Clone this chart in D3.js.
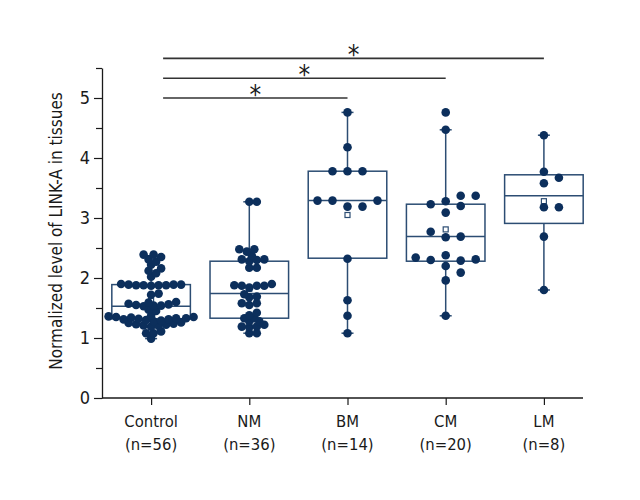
<!DOCTYPE html>
<html>
<head>
<meta charset="utf-8">
<script src="https://cdn.jsdelivr.net/npm/d3@7"></script>
<style>
  body { margin: 0; background: #fff; }
  text { font-family: "DejaVu Sans Condensed", "Liberation Sans", sans-serif; fill: #1a1a1a; }
</style>
</head>
<body>
<script>
// data
var categories = ["Control", "NM", "BM", "CM", "LM"];
var nLabels = ["(n=56)", "(n=36)", "(n=14)", "(n=20)", "(n=8)"];

var controlVals = [2.39, 2.39, 2.35, 2.31, 2.27, 2.22, 2.16, 2.12, 2.08, 2.02,
  1.90, 1.89, 1.89, 1.88, 1.88, 1.88, 1.87, 1.88, 1.89,
  1.74, 1.72,
  1.60, 1.59, 1.57, 1.56,
  1.55, 1.54, 1.54, 1.53,
  1.47, 1.45,
  1.37, 1.36, 1.35, 1.34, 1.33, 1.32, 1.31, 1.30, 1.29, 1.28, 1.31, 1.33, 1.35,
  1.26, 1.25, 1.24, 1.23, 1.22, 1.21, 1.20, 1.19,
  1.11, 1.08, 1.08, 0.99];
var nmVals = [3.27, 3.27, 2.48, 2.48, 2.44, 2.37, 2.31, 2.31, 2.30, 2.28, 2.17, 2.17,
  1.90, 1.87, 1.87, 1.87, 1.88, 1.84, 1.73, 1.69, 1.68, 1.58, 1.58, 1.55,
  1.42, 1.38, 1.33, 1.33, 1.28, 1.28, 1.22, 1.19, 1.19, 1.18, 1.08, 1.08];
var bmVals = [4.76, 4.18, 3.78, 3.78, 3.78, 3.29, 3.29, 3.29, 3.19, 3.19, 2.32, 1.63, 1.37, 1.08];
var cmVals = [4.76, 4.47, 3.37, 3.37, 3.28, 3.23, 3.20, 3.09, 2.77, 2.69, 2.68,
  2.38, 2.34, 2.31, 2.30, 2.29, 2.20, 2.09, 1.96, 1.37];
var lmVals = [4.38, 3.77, 3.67, 3.58, 3.18, 3.18, 2.69, 1.80];

var q1 = [1.32, 1.33, 2.33, 2.28, 2.91];
var medians = [1.53, 1.74, 3.29, 2.69, 3.37];
var q3 = [1.89, 2.28, 3.78, 3.23, 3.72];
var whiskerLow = [0.99, 1.08, 1.08, 1.37, 1.80];
var whiskerHigh = [2.37, 3.27, 4.76, 4.47, 4.38];
var means = [1.62, 1.82, 3.05, 2.81, 3.28];

var comparisons = [["Control", "BM"], ["Control", "CM"], ["Control", "LM"]];
var yTicks = [0, 1, 2, 3, 4, 5];
var yMinorTicks = [0.5, 1.5, 2.5, 3.5, 4.5, 5.5];

var groups = [controlVals, nmVals, bmVals, cmVals, lmVals];

var margin = {top: 68, right: 57, bottom: 102, left: 102};
var width = 640 - margin.left - margin.right,
    height = 500 - margin.top - margin.bottom;

var dotColor = "#0c2f5c",
    boxColor = "#2c4d73";

var svg = d3.select("body").append("svg")
    .attr("width", width + margin.left + margin.right)
    .attr("height", height + margin.top + margin.bottom)
  .append("g")
    .attr("transform", "translate(" + margin.left + "," + margin.top + ")");

var x = d3.scalePoint().domain(categories).range([0, 491]).padding(0.5);
var y = d3.scaleLinear().domain([0, 5.5]).range([height, 0]);

var boxW = x.step() * 0.8;
var capW = 12;

// y axis
svg.append("g")
    .call(d3.axisLeft(y).tickValues(yTicks).tickSize(8).tickSizeOuter(0).tickFormat(d3.format("d")))
    .call(function(g) {
      g.select(".domain").attr("stroke", "#1a1a1a").attr("stroke-width", 1.3);
      g.selectAll(".tick line").attr("stroke", "#1a1a1a").attr("stroke-width", 1.2);
      g.selectAll(".tick text").attr("font-size", 18).attr("x", -12)
        .style("font-family", "'DejaVu Sans Condensed', sans-serif").attr("fill", "#1a1a1a");
    });
svg.append("g")
    .call(d3.axisLeft(y).tickValues(yMinorTicks).tickSize(6).tickFormat(""))
    .call(function(g) {
      g.select(".domain").remove();
      g.selectAll(".tick line").attr("stroke", "#1a1a1a").attr("stroke-width", 1.2);
    });

svg.append("text")
    .attr("transform", "rotate(-90)")
    .attr("x", -(height / 2) + 2)
    .attr("y", -40)
    .attr("font-size", 17)
    .style("text-anchor", "middle")
    .text("Normalized level of LINK-A in tissues");

// x axis
var xg = svg.append("g")
    .attr("transform", "translate(0," + height + ")")
    .call(d3.axisBottom(x).tickSize(7).tickFormat(""));
xg.select(".domain").remove();
xg.selectAll(".tick line").attr("stroke", "#1a1a1a").attr("stroke-width", 1.2);
xg.append("line")
    .attr("x1", 0).attr("x2", width)
    .attr("stroke", "#1a1a1a").attr("stroke-width", 1.3);

categories.forEach(function(c, i) {
  svg.append("text")
      .attr("x", x(c)).attr("y", height + 29)
      .attr("font-size", 16.5)
      .style("text-anchor", "middle")
      .text(c);
  svg.append("text")
      .attr("x", x(c)).attr("y", height + 52)
      .attr("font-size", 16.5)
      .style("text-anchor", "middle")
      .text(nLabels[i]);
});

// boxes
categories.forEach(function(c, i) {
  var cx = x(c);
  var b = svg.append("g").attr("stroke", boxColor).attr("stroke-width", 1.5).attr("fill", "none");
  b.append("line").attr("x1", cx).attr("x2", cx).attr("y1", y(whiskerHigh[i])).attr("y2", y(q3[i]));
  b.append("line").attr("x1", cx).attr("x2", cx).attr("y1", y(q1[i])).attr("y2", y(whiskerLow[i]));
  b.append("line").attr("x1", cx - capW / 2).attr("x2", cx + capW / 2).attr("y1", y(whiskerHigh[i])).attr("y2", y(whiskerHigh[i]));
  b.append("line").attr("x1", cx - capW / 2).attr("x2", cx + capW / 2).attr("y1", y(whiskerLow[i])).attr("y2", y(whiskerLow[i]));
  b.append("rect")
      .attr("x", cx - boxW / 2).attr("width", boxW)
      .attr("y", y(q3[i])).attr("height", y(q1[i]) - y(q3[i]));
  b.append("line").attr("x1", cx - boxW / 2).attr("x2", cx + boxW / 2).attr("y1", y(medians[i])).attr("y2", y(medians[i]));
  // mean marker
  svg.append("rect")
      .attr("x", cx - 2.5).attr("y", y(means[i]) - 2.5)
      .attr("width", 5).attr("height", 5)
      .attr("fill", "#fff").attr("stroke", boxColor).attr("stroke-width", 1.2);
});

// simple beeswarm: put each point at the nearest free slot
function swarm(vals, cx, step, minDist) {
  var placed = [];
  vals.slice().sort(function(a, b) { return a - b; }).forEach(function(v) {
    var py = y(v);
    for (var k = 0; k < 200; k++) {
      var off = (k % 2 === 1 ? 1 : -1) * Math.ceil(k / 2) * step;
      var px = cx + off;
      var ok = placed.every(function(p) {
        return Math.hypot(p.x - px, p.y - py) >= minDist;
      });
      if (ok) { placed.push({x: px, y: py}); break; }
    }
  });
  return placed;
}

categories.forEach(function(c, i) {
  var big = groups[i].length > 25;
  var pts = swarm(groups[i], x(c), big ? 2.5 : 15, big ? 5.6 : 9);
  svg.append("g").selectAll("circle")
      .data(pts)
      .enter().append("circle")
      .attr("cx", function(d) { return d.x; })
      .attr("cy", function(d) { return d.y; })
      .attr("r", 4.3)
      .attr("fill", dotColor);
});

// significance bars
comparisons.forEach(function(p, i) {
  var yy = y(5.0 + i * 0.33);
  var x1 = x(p[0]) + 12, x2 = x(p[1]);
  svg.append("line")
      .attr("x1", x1).attr("x2", x2)
      .attr("y1", yy).attr("y2", yy)
      .attr("stroke", "#333").attr("stroke-width", 1.6);
  svg.append("text")
      .attr("x", (x1 + x2) / 2).attr("y", yy + 6)
      .attr("font-size", 26)
      .style("text-anchor", "middle")
      .text("*");
});
</script>
</body>
</html>
